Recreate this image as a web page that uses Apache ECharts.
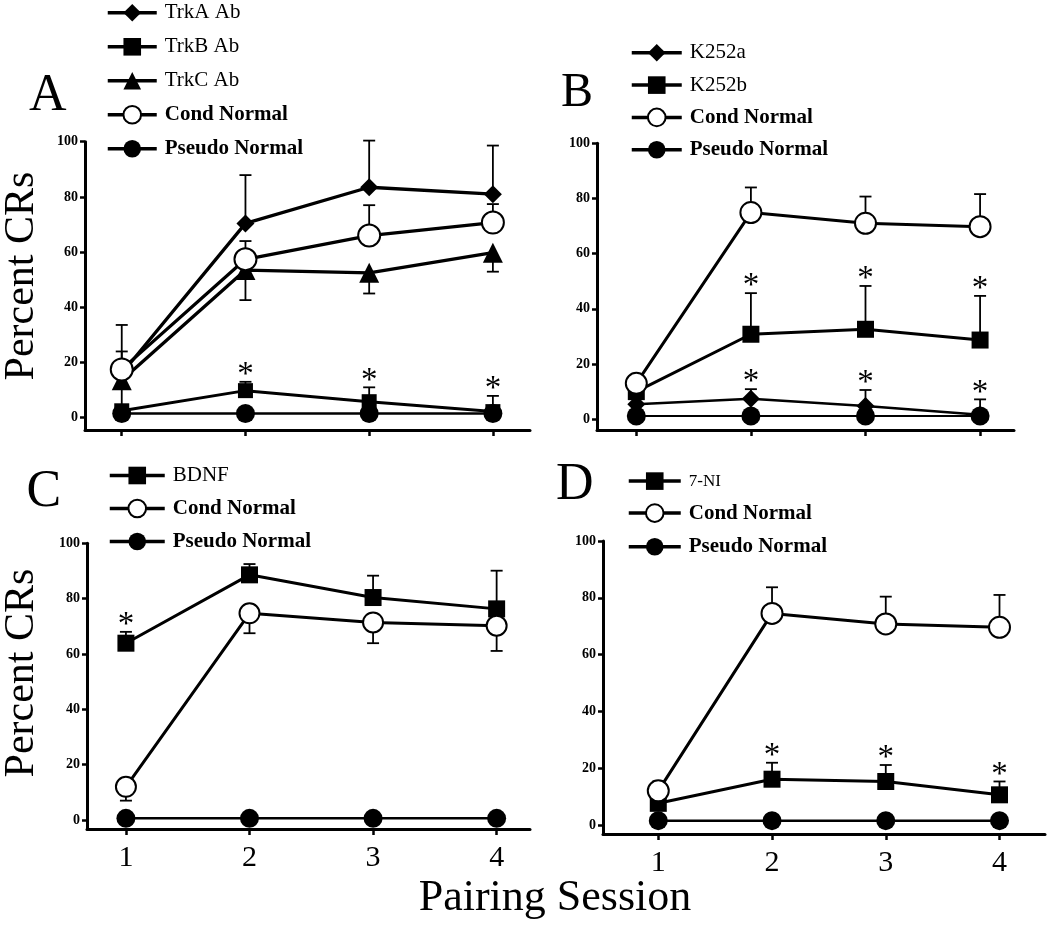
<!DOCTYPE html>
<html><head><meta charset="utf-8">
<script src="https://cdn.jsdelivr.net/npm/echarts@6/dist/echarts.min.js"></script>
<style>html,body{margin:0;padding:0;background:#fff}#chart{width:1050px;height:929px}</style>
</head><body><div id="chart"></div>
<script>
// ---------- data ----------
const sessions = [1, 2, 3, 4];
const yTicks = [0, 20, 40, 60, 80, 100];

// Panel A
const A_trkA = [16, 70.4, 83.5, 81];
const A_trkA_errUp = [17.6, 17.5, 16.9, 17.6];
const A_trkB = [2.5, 9.8, 5.8, 2.2];
const A_trkB_errUp = [0, 3.2, 5.2, 5.7];
const A_trkB_sig = [0, 1, 1, 1];
const A_trkC = [13.6, 53.5, 52.5, 59.8];
const A_trkC_errDown = [10.6, 10.9, 7.5, 6.9];
const A_cond = [17.5, 57.4, 66, 70.7];
const A_cond_errUp = [6.5, 6.6, 11, 6.7];
const A_pseudo = [1.5, 1.5, 1.5, 1.5];

// Panel B
const B_k252a = [5.4, 7.4, 4.8, 1.6];
const B_k252a_errUp = [0, 3.5, 5.8, 5.6];
const B_k252a_sig = [0, 1, 1, 1];
const B_k252b = [10, 30.8, 32.6, 28.7];
const B_k252b_errUp = [0, 14.9, 15.7, 16];
const B_k252b_sig = [0, 1, 1, 1];
const B_cond = [13, 74.9, 71, 69.8];
const B_cond_errUp = [2.5, 9.1, 9.7, 11.8];
const B_pseudo = [1.2, 1.2, 1.2, 1.2];

// Panel C
const C_bdnf = [63.9, 88.6, 80.4, 76.3];
const C_bdnf_errUp = [4.1, 3.9, 7.9, 13.8];
const C_bdnf_sig = [1, 0, 0, 0];
const C_cond = [12, 74.7, 71.4, 70.2];
const C_cond_errDown = [5, 7.2, 7.5, 9.1];
const C_pseudo = [0.6, 0.6, 0.6, 0.6];

// Panel D
const D_7ni = [7.6, 16.1, 15.3, 10.6];
const D_7ni_errUp = [0, 5.8, 5.8, 4.7];
const D_7ni_sig = [0, 1, 1, 1];
const D_cond = [12, 74.5, 70.8, 69.6];
const D_cond_errUp = [3.3, 9.2, 9.6, 11.4];
const D_pseudo = [1.5, 1.5, 1.5, 1.5];

// ---------- helpers ----------
const FONT = "'Liberation Serif','DejaVu Serif',serif";
const symbolSizes = { diamond: 18, rect: 17, triangle: 20, emptyCircle: 21, circle: 19 };

function lineSeries(panel, name, values, symbol, opts) {
  opts = opts || {};
  return {
    type: 'line', name: name, xAxisIndex: panel, yAxisIndex: panel,
    data: sessions.map((s, i) => [s, values[i]]),
    symbol: symbol, symbolSize: opts.size || symbolSizes[symbol],
    lineStyle: { color: '#000', width: opts.width || 3 },
    itemStyle: { color: '#000', borderColor: '#000', borderWidth: symbol === 'emptyCircle' ? 2 : 0 },
    z: 3, clip: false, silent: true, animation: false
  };
}
function errRender(params, api) {
  const x = api.value(0), y = api.value(1), t = api.value(2);
  const p0 = api.coord([x, y]), p1 = api.coord([x, t]);
  const hw = 6;
  return { type: 'group', children: [
    { type: 'line', shape: { x1: p0[0], y1: p0[1], x2: p1[0], y2: p1[1] }, style: { stroke: '#000', lineWidth: 1.8 } },
    { type: 'line', shape: { x1: p1[0] - hw, y1: p1[1], x2: p1[0] + hw, y2: p1[1] }, style: { stroke: '#000', lineWidth: 1.8 } }
  ]};
}
function errSeries(panel, values, errs, dir) {
  const data = [];
  sessions.forEach((s, i) => { if (errs[i] > 0) data.push([s, values[i], values[i] + dir * errs[i]]); });
  return { type: 'custom', xAxisIndex: panel, yAxisIndex: panel, renderItem: errRender, data: data, z: 1, silent: true, animation: false, clip: false };
}
function starRender(params, api) {
  const p = api.coord([api.value(0), api.value(1)]);
  return { type: 'text', x: p[0], y: p[1] - 6.5,
    style: { text: '*', fontSize: 33, fontFamily: FONT, fill: '#000', align: 'center', verticalAlign: 'middle' } };
}
function starSeries(panel, values, errs, sig) {
  const data = [];
  sessions.forEach((s, i) => { if (sig[i]) data.push([s, values[i] + errs[i]]); });
  return { type: 'custom', xAxisIndex: panel, yAxisIndex: panel, renderItem: starRender, data: data, z: 4, silent: true, animation: false, clip: false };
}

const grids = [
  { left: 85, top: 141.7, width: 445, height: 288.3 },
  { left: 597, top: 143.3, width: 417, height: 286.7 },
  { left: 87, top: 543.3, width: 443, height: 285.7 },
  { left: 603, top: 541, width: 442, height: 293 }
];
const xRanges = [[0.703, 4.30], [0.657, 4.296], [0.685, 4.27], [0.514, 4.40]];
const yMins = [-4.46, -3.9, -3.25, -3.2];
const showXLabels = [false, false, true, true];

const xAxes = grids.map((g, i) => ({
  type: 'value', gridIndex: i, min: xRanges[i][0], max: xRanges[i][1],
  splitLine: { show: false },
  axisLine: { show: true, onZero: false, lineStyle: { color: '#000', width: 3 } },
  axisTick: { show: true, customValues: sessions, length: 6, lineStyle: { color: '#000', width: 2.5 } },
  axisLabel: { show: showXLabels[i], customValues: sessions, margin: 14, fontSize: 30, fontFamily: FONT, color: '#000' }
}));
const yAxes = grids.map((g, i) => ({
  type: 'value', gridIndex: i, min: yMins[i], max: 100,
  splitLine: { show: false },
  axisLine: { show: true, onZero: false, lineStyle: { color: '#000', width: 3 } },
  axisTick: { show: true, customValues: yTicks, length: 5, lineStyle: { color: '#000', width: 2.5 } },
  axisLabel: { show: true, customValues: yTicks, margin: 7, fontSize: 14, fontWeight: 'bold', fontFamily: FONT, color: '#000' }
}));

const series = [
  // A
  errSeries(0, A_trkA, A_trkA_errUp, 1),
  errSeries(0, A_trkC, A_trkC_errDown, -1),
  errSeries(0, A_cond, A_cond_errUp, 1),
  errSeries(0, A_trkB, A_trkB_errUp, 1),
  lineSeries(0, 'TrkA Ab', A_trkA, 'diamond', { width: 3.3 }),
  lineSeries(0, 'TrkC Ab', A_trkC, 'triangle', { width: 3.3 }),
  lineSeries(0, 'TrkB Ab', A_trkB, 'rect', { size: 15 }),
  lineSeries(0, 'Pseudo Normal', A_pseudo, 'circle', { width: 2.5 }),
  lineSeries(0, 'Cond Normal', A_cond, 'emptyCircle', { size: 22, width: 3.3 }),
  starSeries(0, A_trkB, A_trkB_errUp, A_trkB_sig),
  // B
  errSeries(1, B_cond, B_cond_errUp, 1),
  errSeries(1, B_k252b, B_k252b_errUp, 1),
  errSeries(1, B_k252a, B_k252a_errUp, 1),
  lineSeries(1, 'K252a', B_k252a, 'diamond', { width: 2.5 }),
  lineSeries(1, 'Pseudo Normal', B_pseudo, 'circle', { width: 2 }),
  lineSeries(1, 'K252b', B_k252b, 'rect'),
  lineSeries(1, 'Cond Normal', B_cond, 'emptyCircle'),
  starSeries(1, B_k252b, B_k252b_errUp, B_k252b_sig),
  starSeries(1, B_k252a, B_k252a_errUp, B_k252a_sig),
  // C
  errSeries(2, C_bdnf, C_bdnf_errUp, 1),
  errSeries(2, C_cond, C_cond_errDown, -1),
  lineSeries(2, 'BDNF', C_bdnf, 'rect'),
  lineSeries(2, 'Pseudo Normal', C_pseudo, 'circle', { width: 2.5 }),
  lineSeries(2, 'Cond Normal', C_cond, 'emptyCircle', { size: 20 }),
  starSeries(2, C_bdnf, C_bdnf_errUp, C_bdnf_sig),
  // D
  errSeries(3, D_cond, D_cond_errUp, 1),
  errSeries(3, D_7ni, D_7ni_errUp, 1),
  lineSeries(3, '7-NI', D_7ni, 'rect'),
  lineSeries(3, 'Pseudo Normal', D_pseudo, 'circle', { width: 2.5 }),
  lineSeries(3, 'Cond Normal', D_cond, 'emptyCircle'),
  starSeries(3, D_7ni, D_7ni_errUp, D_7ni_sig)
];

function legendItem(name, bold, size) {
  const ts = { fontWeight: bold ? 'bold' : 'normal' };
  if (size) ts.fontSize = size;
  return { name: name, textStyle: ts };
}
const legendBase = {
  orient: 'vertical', itemHeight: 22, selectedMode: false, padding: 0,
  textStyle: { fontFamily: FONT, fontSize: 21, color: '#000', padding: [0, 0, 0, 3] },
  lineStyle: { width: 3.5 }
};
const legends = [
  Object.assign({}, legendBase, { left: 106, top: 2.3, itemWidth: 49, itemGap: 13,
    data: [legendItem('TrkA Ab'), legendItem('TrkB Ab'), legendItem('TrkC Ab'), legendItem('Cond Normal', true), legendItem('Pseudo Normal', true)] }),
  Object.assign({}, legendBase, { left: 630, top: 42.3, itemWidth: 50, itemGap: 11.3,
    data: [legendItem('K252a'), legendItem('K252b'), legendItem('Cond Normal', true), legendItem('Pseudo Normal', true)] }),
  Object.assign({}, legendBase, { left: 108, top: 465, itemWidth: 55, itemGap: 12,
    data: [legendItem('BDNF'), legendItem('Cond Normal', true), legendItem('Pseudo Normal', true)] }),
  Object.assign({}, legendBase, { left: 627, top: 472.3, itemWidth: 52, itemGap: 12.7,
    data: [legendItem('7-NI', false, 17), legendItem('Cond Normal', true), legendItem('Pseudo Normal', true)] })
];

function label(text, x, y, size, opts) {
  opts = opts || {};
  return { type: 'text', x: x, y: y, rotation: opts.rotation || 0, silent: true,
    style: { text: text, fontSize: size, fontFamily: FONT, fill: '#000', align: opts.align || 'left', verticalAlign: 'middle' } };
}

const chart = echarts.init(document.getElementById('chart'), null, { renderer: 'canvas' });
chart.setOption({
  backgroundColor: '#fff',
  animation: false,
  grid: grids,
  xAxis: xAxes,
  yAxis: yAxes,
  legend: legends,
  series: series,
  graphic: [
    label('A', 29, 96, 52),
    label('B', 561, 93, 48),
    label('C', 26.5, 492, 52),
    label('D', 556, 485, 52),
    label('Percent CRs', 22, 276, 42, { rotation: Math.PI / 2, align: 'center' }),
    label('Percent CRs', 22, 673, 42, { rotation: Math.PI / 2, align: 'center' }),
    label('Pairing Session', 555, 898, 44, { align: 'center' })
  ]
});
</script></body></html>
